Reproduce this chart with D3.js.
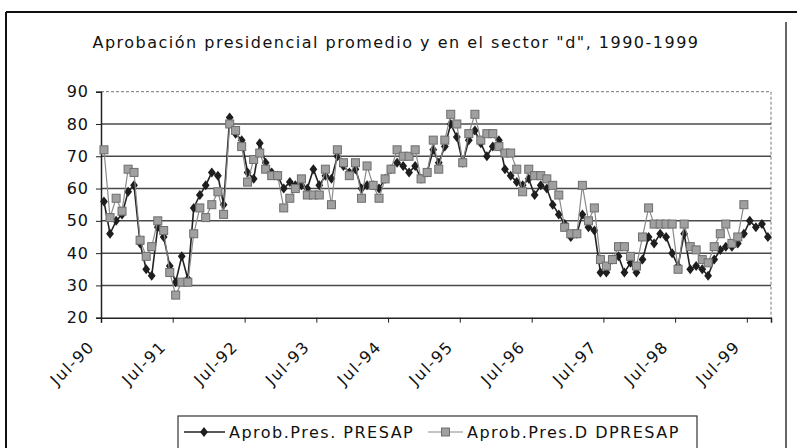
<!DOCTYPE html>
<html>
<head>
<meta charset="utf-8">
<script src="https://cdn.jsdelivr.net/npm/d3@7"></script>
<style>
  body { margin: 0; background: #fff; }
  svg { display: block; }
</style>
</head>
<body>
<svg></svg>
<script>
const width = 797;
const height = 448;
const svg = d3.select("svg").attr("width", width).attr("height", height);

// monthly categories, Jul-90 .. Oct-99
const months = d3.timeMonth.range(new Date(1990, 6, 1), new Date(1999, 10, 1));
const tickYears = [1990, 1991, 1992, 1993, 1994, 1995, 1996, 1997, 1998, 1999];
const yTicks = [20, 30, 40, 50, 60, 70, 80, 90];

// Aprob.Pres. PRESAP
const presap = [
  56, 46, 50, 52, 59, 61, 43, 35, 33, 48, 45, 36,
  31, 39, 32, 54, 58, 61, 65, 64, 55, 82, 77, 75,
  65, 63, 74, 68, 65, 64, 60, 62, 61, 61, 60, 66,
  61, 64, 63, 70, 67, 65, 66, 60, 61, 61, 60, 63,
  66, 68, 67, 65, 67, 63, 65, 72, 68, 73, 80, 76,
  68, 75, 78, 74, 70, 73, 75, 66, 64, 62, 61, 63,
  58, 61, 60, 55, 52, 49, 45, 46, 52, 48, 47, 34,
  34, 38, 39, 34, 37, 34, 38, 45, 43, 46, 45, 40,
  36, 46, 35, 36, 35, 33, 38, 41, 42, 42, 43, 46,
  50, 48, 49, 45
];

// Aprob.Pres.D DPRESAP
const dpresap = [
  72, 51, 57, 53, 66, 65, 44, 39, 42, 50, 47, 34,
  27, 31, 31, 46, 54, 51, 55, 59, 52, 80, 78, 73,
  62, 69, 71, 66, 64, 64, 54, 57, 60, 63, 58, 58,
  58, 66, 55, 72, 68, 64, 68, 57, 67, 61, 57, 63,
  66, 72, 70, 70, 72, 63, 65, 75, 66, 75, 83, 80,
  68, 77, 83, 75, 77, 77, 73, 71, 71, 66, 59, 66,
  64, 64, 63, 61, 58, 48, 46, 46, 61, 50, 54, 38,
  36, 38, 42, 42, 39, 36, 45, 54, 49, 49, 49, 49,
  35, 49, 42, 41, 38, 37, 42, 46, 49, 43, 45, 55,
  null, null, null, null
];

const margin = { left: 101, right: 771, top: 91.7, bottom: 317.7 };

const x = d3.scaleTime()
  .domain([months[0], d3.timeMonth.offset(months[months.length - 1], 1)])
  .range([margin.left, margin.right]);

const y = d3.scaleLinear()
  .domain([20, 90])
  .range([margin.bottom, margin.top]);

const mid = (d) => x(d3.timeDay.offset(d, 15));

const fontFamily = "'DejaVu Sans', Verdana, sans-serif";
const spacing = "1.5px";

// outer frame
svg.append("line").attr("x1", 6).attr("y1", 12).attr("x2", 797).attr("y2", 12)
  .attr("stroke", "#111").attr("stroke-width", 2);
svg.append("line").attr("x1", 6).attr("y1", 12).attr("x2", 6).attr("y2", 448)
  .attr("stroke", "#111").attr("stroke-width", 2);
svg.append("line").attr("x1", 786).attr("y1", 22).attr("x2", 786).attr("y2", 448)
  .attr("stroke", "#333").attr("stroke-width", 1.5);

// title
svg.append("text")
  .attr("x", 396)
  .attr("y", 48)
  .attr("text-anchor", "middle")
  .attr("font-family", fontFamily)
  .attr("font-size", "16px")
  .attr("letter-spacing", spacing)
  .attr("fill", "#111")
  .text('Aprobación presidencial promedio y en el sector "d", 1990-1999');

// plot border top/right dashed
svg.append("path")
  .attr("d", `M${margin.left},${margin.top}H${margin.right}V${margin.bottom}`)
  .attr("fill", "none")
  .attr("stroke", "#777")
  .attr("stroke-width", 1)
  .attr("stroke-dasharray", "3,2");

// gridlines
svg.append("g")
  .selectAll("line")
  .data(yTicks.filter((t) => t > 20 && t < 90))
  .enter()
  .append("line")
  .attr("x1", margin.left)
  .attr("x2", margin.right)
  .attr("y1", (d) => y(d))
  .attr("y2", (d) => y(d))
  .attr("stroke", "#4a4a4a")
  .attr("stroke-width", 1.5);

// y axis
const yAxis = svg.append("g")
  .attr("transform", `translate(${margin.left},0)`)
  .call(d3.axisLeft(y).tickValues(yTicks).tickSize(5).tickPadding(7));
yAxis.select(".domain").attr("stroke", "#222").attr("stroke-width", 1.5);
yAxis.selectAll(".tick line").attr("stroke", "#222");
yAxis.selectAll("text")
  .attr("font-family", fontFamily)
  .attr("font-size", "16px")
  .attr("letter-spacing", "1px")
  .attr("fill", "#111");

// x axis
const xAxis = svg.append("g")
  .attr("transform", `translate(0,${margin.bottom})`)
  .call(
    d3.axisBottom(x)
      .tickValues(tickYears.map((yr) => new Date(yr, 6, 1)))
      .tickFormat(d3.timeFormat("%b-%y"))
      .tickSizeOuter(0)
      .tickSize(5)
  );
xAxis.select(".domain").attr("stroke", "#222").attr("stroke-width", 1.5);
xAxis.selectAll(".tick line").attr("stroke", "#222");
xAxis.selectAll("text")
  .attr("font-family", fontFamily)
  .attr("font-size", "16px")
  .attr("letter-spacing", spacing)
  .attr("fill", "#111")
  .attr("text-anchor", "end")
  .attr("dy", null)
  .attr("x", 0)
  .attr("y", 0)
  .attr("transform", "translate(-6,30) rotate(-45)");

// series
const lineP = d3.line()
  .defined((d) => d[1] != null)
  .x((d) => mid(d[0]))
  .y((d) => y(d[1]));

const dataP = months.map((m, i) => [m, presap[i]]);
const dataD = months.map((m, i) => [m, dpresap[i]]);

svg.append("path")
  .datum(dataP)
  .attr("d", lineP)
  .attr("fill", "none")
  .attr("stroke", "#222")
  .attr("stroke-width", 1.6);

svg.append("g")
  .selectAll("path")
  .data(dataP.filter((d) => d[1] != null))
  .enter()
  .append("path")
  .attr("d", d3.symbol(d3.symbolDiamond, 40))
  .attr("transform", (d) => `translate(${mid(d[0])},${y(d[1])}) scale(1.15,0.85)`)
  .attr("fill", "#1e1e1e");

svg.append("path")
  .datum(dataD)
  .attr("d", lineP)
  .attr("fill", "none")
  .attr("stroke", "#8a8a8a")
  .attr("stroke-width", 1.2);

svg.append("g")
  .selectAll("rect")
  .data(dataD.filter((d) => d[1] != null))
  .enter()
  .append("rect")
  .attr("x", (d) => mid(d[0]) - 4)
  .attr("y", (d) => y(d[1]) - 4)
  .attr("width", 8)
  .attr("height", 8)
  .attr("fill", "#a0a0a0")
  .attr("stroke", "#6e6e6e")
  .attr("stroke-width", 1);

// legend
const legend = svg.append("g");
legend.append("rect")
  .attr("x", 178).attr("y", 416)
  .attr("width", 519).attr("height", 45)
  .attr("fill", "#fff")
  .attr("stroke", "#333")
  .attr("stroke-width", 1.2);

legend.append("line").attr("x1", 184).attr("x2", 225).attr("y1", 432).attr("y2", 432)
  .attr("stroke", "#222").attr("stroke-width", 1.6);
legend.append("path")
  .attr("d", d3.symbol(d3.symbolDiamond, 40))
  .attr("transform", "translate(204,432) scale(1.15,0.85)")
  .attr("fill", "#1e1e1e");
legend.append("text")
  .attr("x", 229).attr("y", 438)
  .attr("font-family", fontFamily).attr("font-size", "16px")
  .attr("letter-spacing", spacing).attr("fill", "#111")
  .text("Aprob.Pres. PRESAP");

legend.append("line").attr("x1", 428).attr("x2", 463).attr("y1", 432).attr("y2", 432)
  .attr("stroke", "#8a8a8a").attr("stroke-width", 1.2);
legend.append("rect")
  .attr("x", 441.5).attr("y", 428).attr("width", 8).attr("height", 8)
  .attr("fill", "#a0a0a0").attr("stroke", "#6e6e6e");
legend.append("text")
  .attr("x", 467).attr("y", 438)
  .attr("font-family", fontFamily).attr("font-size", "16px")
  .attr("letter-spacing", spacing).attr("fill", "#111")
  .text("Aprob.Pres.D DPRESAP");
</script>
</body>
</html>
